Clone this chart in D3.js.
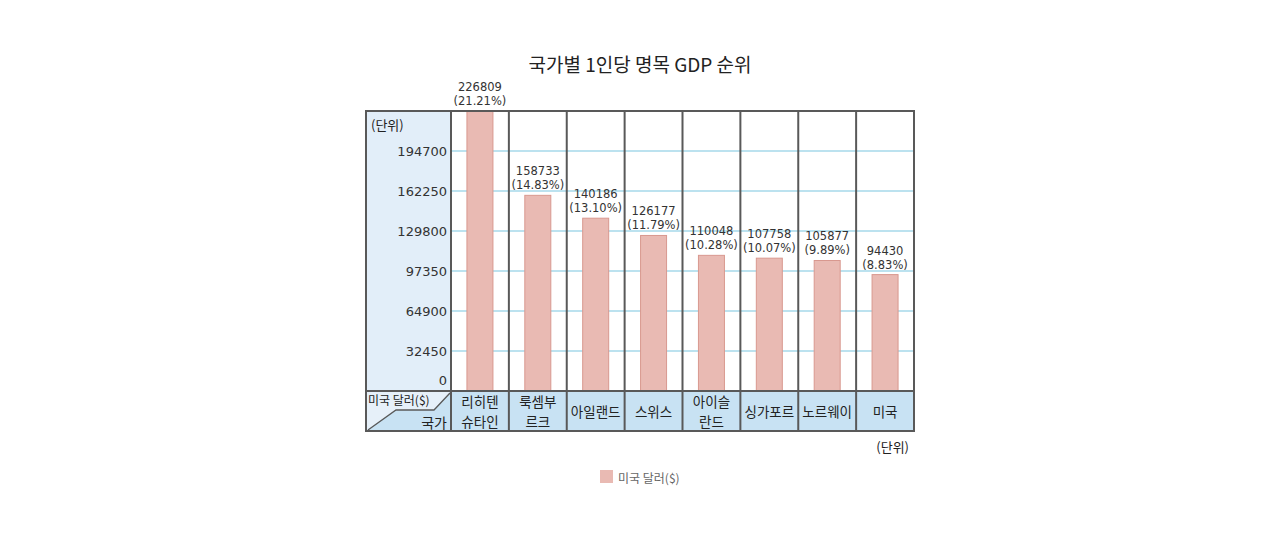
<!DOCTYPE html>
<html>
<head>
<meta charset="utf-8">
<script src="https://cdn.jsdelivr.net/npm/d3@7"></script>
<style>
html,body{margin:0;padding:0;background:#fff;}
svg{display:block;font-family:"Noto Sans CJK KR","Noto Sans",sans-serif;}
</style>
</head>
<body>
<svg id="chart" width="1280" height="543"></svg>
<script>
const categories = ["리히텐\n슈타인","룩셈부\n르크","아일랜드","스위스","아이슬\n란드","싱가포르","노르웨이","미국"];
const values = [226809,158733,140186,126177,110048,107758,105877,94430];
const shares = ["21.21%","14.83%","13.10%","11.79%","10.28%","10.07%","9.89%","8.83%"];
const ticks = [0,32450,64900,97350,129800,162250,194700];
const gridTicks = [32450,64900,97350,129800,162250,194700];
const yMax = 227150;
const title = "국가별 1인당 명목 GDP 순위";
const seriesName = "미국 달러($)";

const svg = d3.select("#chart");
const L = 366, A = 451, R = 914, T = 111, B = 391, H = 431;
const barFill = "#e9bab3", barStroke = "#d8988f", border = "#595959";
const numFont = "'DejaVu Sans', sans-serif";

const x = d3.scaleBand().domain(categories).range([A, R]).paddingInner(0).paddingOuter(0);
const y = d3.scaleLinear().domain([0, yMax]).range([B, T]);

// title
svg.append("text").attr("x", 640).attr("y", 63).attr("text-anchor","middle")
  .attr("dominant-baseline","central").attr("font-size", 19).attr("fill","#222").text(title);

// axis panel
svg.append("rect").attr("x", L).attr("y", T).attr("width", A-L).attr("height", B-T).attr("fill","#e2eef9");
// header row
svg.append("rect").attr("x", A).attr("y", B).attr("width", R-A).attr("height", H-B).attr("fill","#c8e2f3");
// corner cell
svg.append("rect").attr("x", L).attr("y", B).attr("width", A-L).attr("height", H-B).attr("fill","#c8e2f3");
svg.append("path").attr("d", `M${L},${B} L${A},${B} L${434},${410} L${396},${410} L${L+1},${H-1} L${L},${H} Z`)
  .attr("fill","#e6f0f9");
svg.append("path").attr("d", `M${L+2},${H-1} L396,410 L434,410 L${A-1},${B+2}`)
  .attr("fill","none").attr("stroke", border).attr("stroke-width",1.3);
svg.append("text").attr("x", 368).attr("y", 399).attr("dominant-baseline","central")
  .attr("font-size", 12).attr("fill","#222").text(seriesName);
svg.append("text").attr("x", 447).attr("y", 422).attr("text-anchor","end").attr("dominant-baseline","central")
  .attr("font-size", 14).attr("fill","#222").text("국가");

// gridlines
svg.append("g").selectAll("line").data(gridTicks).join("line")
  .attr("x1", A).attr("x2", R).attr("y1", d=>y(d)).attr("y2", d=>y(d))
  .attr("stroke","#a6d8ea").attr("stroke-width",1.3);

// tick labels
svg.append("g").selectAll("text").data(ticks).join("text")
  .attr("x", 447).attr("y", d=>Math.min(y(d), y(0)-11))
  .attr("text-anchor","end").attr("dominant-baseline","central")
  .attr("font-family", numFont).attr("font-size", 13).attr("fill","#333").text(d=>d);
svg.append("text").attr("x", 371).attr("y", 124).attr("dominant-baseline","central")
  .attr("font-size", 13).attr("fill","#222").text("(단위)");

// bars
const bw = 26;
svg.append("g").selectAll("rect").data(values).join("rect")
  .attr("x", (d,i)=>x(categories[i]) + x.bandwidth()/2 - bw/2)
  .attr("y", d=>y(d)).attr("width", bw).attr("height", d=>B - y(d))
  .attr("fill", barFill).attr("stroke", barStroke).attr("stroke-width",1);

// value labels
const lg = svg.append("g").attr("font-family", numFont).attr("font-size", 11.5).attr("fill","#333").attr("text-anchor","middle");
values.forEach((v,i)=>{
  const cx = x(categories[i]) + x.bandwidth()/2;
  lg.append("text").attr("x", cx).attr("y", y(v)-20).text(v);
  lg.append("text").attr("x", cx).attr("y", y(v)-6).text("(" + shares[i] + ")");
});

// category labels
const cg = svg.append("g").attr("font-size", 13.5).attr("fill","#222").attr("text-anchor","middle");
categories.forEach(c=>{
  const lines = c.split("\n");
  const cx = x(c) + x.bandwidth()/2;
  const cy = (B+H)/2;
  lines.forEach((ln,j)=>{
    cg.append("text").attr("x", cx).attr("y", cy + (j - (lines.length-1)/2)*19.8)
      .attr("dominant-baseline","central").text(ln);
  });
});

// column dividers
const edges = [A].concat(categories.map(c=>x(c)+x.bandwidth()));
svg.append("g").selectAll("line").data(edges).join("line")
  .attr("x1", d=>d).attr("x2", d=>d).attr("y1", T).attr("y2", H)
  .attr("stroke", border).attr("stroke-width",2);
svg.append("line").attr("x1", L).attr("x2", R).attr("y1", B).attr("y2", B)
  .attr("stroke", border).attr("stroke-width",2);
svg.append("rect").attr("x", L).attr("y", T).attr("width", R-L).attr("height", H-T)
  .attr("fill","none").attr("stroke", border).attr("stroke-width",2);

// unit bottom
svg.append("text").attr("x", 909).attr("y", 446).attr("text-anchor","end").attr("dominant-baseline","central")
  .attr("font-size", 13).attr("fill","#222").text("(단위)");

// legend
svg.append("rect").attr("x", 600).attr("y", 470).attr("width", 13).attr("height", 13).attr("fill", barFill);
svg.append("text").attr("x", 618).attr("y", 477).attr("dominant-baseline","central")
  .attr("font-size", 12).attr("fill","#666").text(seriesName);
</script>
</body>
</html>
